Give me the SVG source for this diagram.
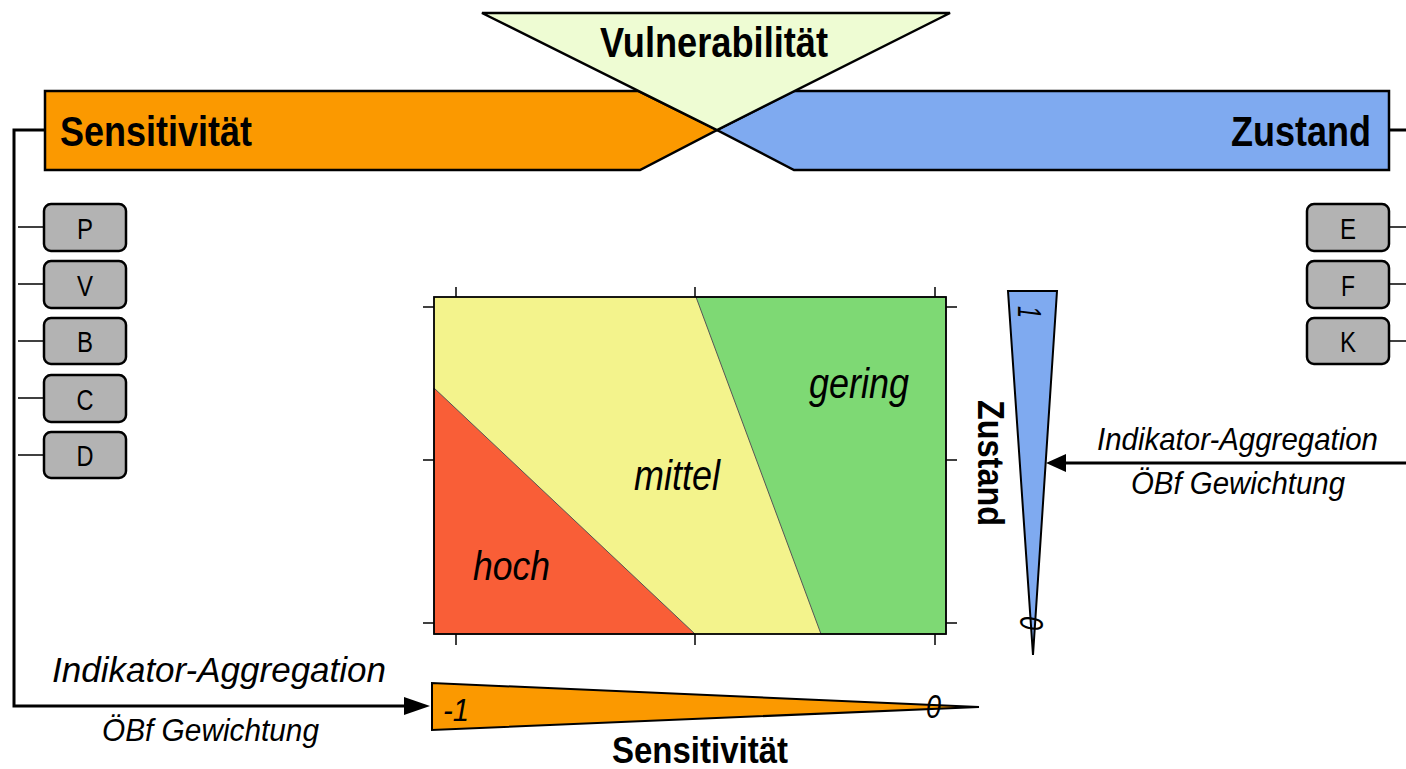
<svg xmlns="http://www.w3.org/2000/svg" width="1406" height="769" viewBox="0 0 1406 769">
<style>
  .bold { font-family: "Liberation Sans Narrow", "Liberation Sans", Arial, sans-serif; font-weight: bold; fill: #000; }
  .ital { font-family: "Liberation Sans Narrow", "Liberation Sans", Arial, sans-serif; font-style: italic; fill: #000; }
  .box { fill: #B3B3B3; stroke: #000; stroke-width: 2.5; }
  .boxt { font-family: "Liberation Sans", Arial, sans-serif; font-size: 30px; fill: #000; text-anchor: middle; }
  .wire { stroke: #000; stroke-width: 3; fill: none; }
  .tick { stroke: #000; stroke-width: 1.5; fill: none; }
  .thin { stroke: #000; stroke-width: 1.5; }
</style>

<g id="connectors">
  <polyline class="wire" points="45,130 14,130 14,706 412,706"/>
  <path d="M404,697 L430,706 L404,715 z" fill="#000"/>
  <line class="wire" x1="1406" y1="463" x2="1064" y2="463"/>
  <path d="M1066,454 L1046,463 L1066,472 z" fill="#000"/>
  <line class="wire" x1="1389" y1="130" x2="1406" y2="130"/>
  <g class="thin">
    <line x1="18" y1="227" x2="44" y2="227"/>
    <line x1="18" y1="284" x2="44" y2="284"/>
    <line x1="18" y1="341" x2="44" y2="341"/>
    <line x1="18" y1="398" x2="44" y2="398"/>
    <line x1="18" y1="455" x2="44" y2="455"/>
    <line x1="1389" y1="227" x2="1406" y2="227"/>
    <line x1="1389" y1="284" x2="1406" y2="284"/>
    <line x1="1389" y1="341" x2="1406" y2="341"/>
  </g>
</g>

<g id="sensitivitaet-banner">
  <polygon points="45,91 638,91 717,130 640,170 45,170" fill="#FB9900" stroke="#000" stroke-width="2.5"/>
  <text class="bold" x="60" y="146" font-size="43" textLength="192" lengthAdjust="spacingAndGlyphs">Sensitivität</text>
</g>

<g id="zustand-banner">
  <polygon points="1389,91 794,91 717,130 794,170 1389,170" fill="#7FAAF0" stroke="#000" stroke-width="2.5"/>
  <text class="bold" x="1231" y="146" font-size="43" textLength="140" lengthAdjust="spacingAndGlyphs">Zustand</text>
</g>

<g id="vulnerabilitaet">
  <polygon points="482,13 950,13 717,130" fill="#EEFCD3" stroke="#000" stroke-width="2.5"/>
  <text class="bold" x="600" y="57" font-size="42" textLength="228" lengthAdjust="spacingAndGlyphs">Vulnerabilität</text>
</g>

<g id="box-P"><rect class="box" x="44" y="204" width="82" height="47" rx="7"/><text class="boxt" x="85" y="239" textLength="16" lengthAdjust="spacingAndGlyphs">P</text></g>
<g id="box-V"><rect class="box" x="44" y="261" width="82" height="47" rx="7"/><text class="boxt" x="85" y="296" textLength="16" lengthAdjust="spacingAndGlyphs">V</text></g>
<g id="box-B"><rect class="box" x="44" y="318" width="82" height="46" rx="7"/><text class="boxt" x="85" y="352" textLength="16" lengthAdjust="spacingAndGlyphs">B</text></g>
<g id="box-C"><rect class="box" x="44" y="375" width="82" height="47" rx="7"/><text class="boxt" x="85" y="410" textLength="17" lengthAdjust="spacingAndGlyphs">C</text></g>
<g id="box-D"><rect class="box" x="44" y="432" width="82" height="46" rx="7"/><text class="boxt" x="85" y="466" textLength="17" lengthAdjust="spacingAndGlyphs">D</text></g>

<g id="box-E"><rect class="box" x="1307" y="204" width="82" height="47" rx="7"/><text class="boxt" x="1348" y="239" textLength="16" lengthAdjust="spacingAndGlyphs">E</text></g>
<g id="box-F"><rect class="box" x="1307" y="261" width="82" height="47" rx="7"/><text class="boxt" x="1348" y="296" textLength="14" lengthAdjust="spacingAndGlyphs">F</text></g>
<g id="box-K"><rect class="box" x="1307" y="318" width="82" height="46" rx="7"/><text class="boxt" x="1348" y="352" textLength="16" lengthAdjust="spacingAndGlyphs">K</text></g>

<g id="chart">
  <rect x="434" y="297" width="512" height="337" fill="#F3F38C"/>
  <polygon points="434,388 434,634 695,634" fill="#F95E37" stroke="#555" stroke-width="1"/>
  <polygon points="696,297 946,297 946,634 821,634" fill="#7ED974" stroke="#555" stroke-width="1"/>
  <rect x="434" y="297" width="512" height="337" fill="none" stroke="#000" stroke-width="1.8"/>
  <g class="tick">
    <line x1="456" y1="287" x2="456" y2="297"/>
    <line x1="695" y1="287" x2="695" y2="297"/>
    <line x1="935" y1="287" x2="935" y2="297"/>
    <line x1="456" y1="634" x2="456" y2="645"/>
    <line x1="695" y1="634" x2="695" y2="645"/>
    <line x1="935" y1="634" x2="935" y2="645"/>
    <line x1="423" y1="307" x2="434" y2="307"/>
    <line x1="423" y1="460" x2="434" y2="460"/>
    <line x1="423" y1="623" x2="434" y2="623"/>
    <line x1="946" y1="307" x2="957" y2="307"/>
    <line x1="946" y1="460" x2="957" y2="460"/>
    <line x1="946" y1="623" x2="957" y2="623"/>
  </g>
  <text class="ital" x="809" y="398" font-size="42" textLength="100" lengthAdjust="spacingAndGlyphs">gering</text>
  <text class="ital" x="634" y="490" font-size="42" textLength="86" lengthAdjust="spacingAndGlyphs">mittel</text>
  <text class="ital" x="473" y="580" font-size="41" textLength="77" lengthAdjust="spacingAndGlyphs">hoch</text>
</g>

<g id="zustand-wedge">
  <polygon points="1008,291 1057,291 1033,655" fill="#7FAAF0" stroke="#000" stroke-width="2"/>
  <text class="ital" transform="translate(1018,306) rotate(90)" font-size="33" textLength="12" lengthAdjust="spacingAndGlyphs">1</text>
  <text class="ital" transform="translate(1020,616) rotate(90)" font-size="34" textLength="14" lengthAdjust="spacingAndGlyphs">0</text>
  <text class="bold" transform="translate(978,400) rotate(90)" font-size="37" textLength="126" lengthAdjust="spacingAndGlyphs">Zustand</text>
</g>

<g id="sensitivitaet-wedge">
  <polygon points="432,683 432,730 979,707" fill="#FB9900" stroke="#000" stroke-width="2"/>
  <text class="ital" x="443" y="721" font-size="32" textLength="26" lengthAdjust="spacingAndGlyphs">-1</text>
  <text class="ital" x="926" y="718" font-size="34" textLength="15" lengthAdjust="spacingAndGlyphs">0</text>
  <text class="bold" x="612" y="763" font-size="37" textLength="176" lengthAdjust="spacingAndGlyphs">Sensitivität</text>
</g>

<g id="labels">
  <text class="ital" x="52" y="682" font-size="35" textLength="334" lengthAdjust="spacingAndGlyphs">Indikator-Aggregation</text>
  <text class="ital" x="102" y="741" font-size="31" textLength="217" lengthAdjust="spacingAndGlyphs">ÖBf Gewichtung</text>
  <text class="ital" x="1097" y="450" font-size="32" textLength="281" lengthAdjust="spacingAndGlyphs">Indikator-Aggregation</text>
  <text class="ital" x="1131" y="494" font-size="31" textLength="214" lengthAdjust="spacingAndGlyphs">ÖBf Gewichtung</text>
</g>
</svg>
